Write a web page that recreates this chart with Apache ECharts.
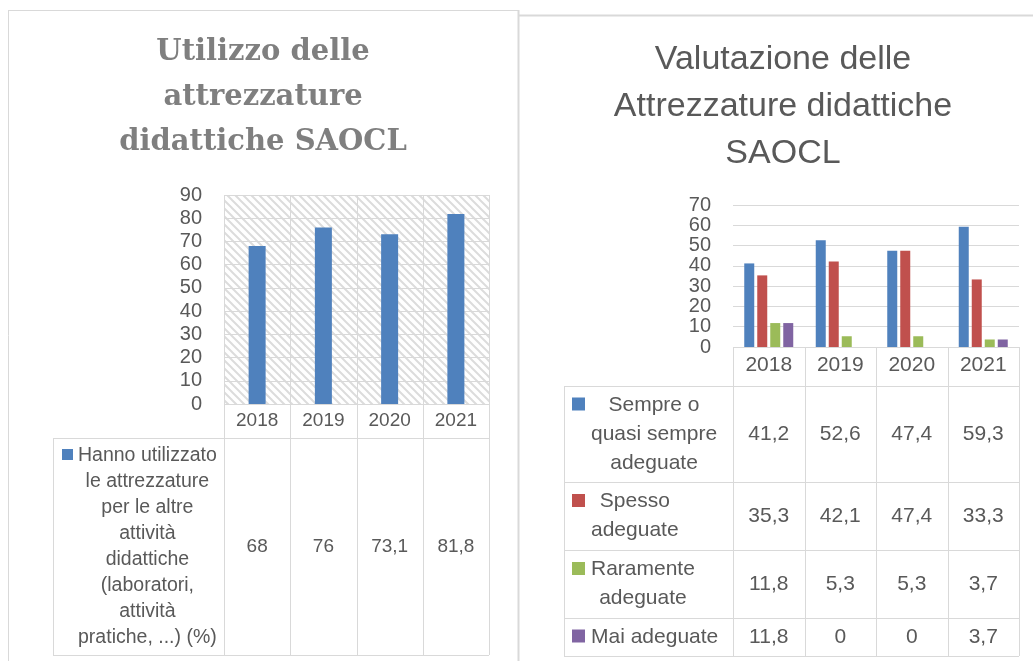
<!DOCTYPE html>
<html>
<head>
<meta charset="utf-8">
<script src="https://cdn.jsdelivr.net/npm/echarts@6/dist/echarts.min.js"></script>
<style>
  html, body { margin: 0; padding: 0; background: #fff; }
  #main { width: 1033px; height: 661px; }
</style>
</head>
<body>
<div id="main"></div>
<script>
// dati
const anni = ['2018', '2019', '2020', '2021']
const utilizzo = [68, 76, 73.1, 81.8]
const utilizzoNome = 'Hanno utilizzato\nle attrezzature\nper le altre\nattività\ndidattiche\n(laboratori,\nattività\npratiche, ...) (%)'
const sempre = [41.2, 52.6, 47.4, 59.3]
const spesso = [35.3, 42.1, 47.4, 33.3]
const raramente = [11.8, 5.3, 5.3, 3.7]
const mai = [11.8, 0, 0, 3.7]
const valutazioneNomi = ['Sempre o\nquasi sempre\nadeguate', 'Spesso\nadeguate', 'Raramente\nadeguate', 'Mai adeguate']
const valutazioneColori = ['#4f81bd', '#c0504d', '#9bbb59', '#8064a2']
const titoloSx = 'Utilizzo delle\nattrezzature\ndidattiche SAOCL'
const titoloDx = 'Valutazione delle\nAttrezzature didattiche\nSAOCL'

const FONT = 'Liberation Sans'
const TXT = '#595959'
const LINEA = '#d9d9d9'

// layout dei due grafici
const g1 = { left: 224, top: 195, width: 265, height: 209 }
const g2 = { left: 733, top: 205, width: 286, height: 142 }

const fmt = v => String(v).replace('.', ',')

const misura = document.createElement('canvas').getContext('2d')
function larghezza(testo, size) {
  misura.font = size + 'px "' + FONT + '"'
  return Math.max(...testo.split('\n').map(r => misura.measureText(r).width))
}

// tratteggio dello sfondo del primo grafico
const tile = document.createElement('canvas')
tile.width = 8
tile.height = 8
const tc = tile.getContext('2d')
tc.strokeStyle = '#dcdcdc'
tc.lineWidth = 2
tc.beginPath()
tc.moveTo(-2, -2)
tc.lineTo(10, 10)
tc.moveTo(-2, 6)
tc.lineTo(2, 10)
tc.moveTo(6, -2)
tc.lineTo(10, 2)
tc.stroke()

const graphics = []
function linea(x1, y1, x2, y2, w) {
  graphics.push({ type: 'line', silent: true, z: 5,
    shape: { x1, y1, x2, y2 }, style: { stroke: LINEA, lineWidth: w || 1 } })
}
function testo(t, x, y, size, extra) {
  graphics.push({ type: 'text', silent: true, z: 6, x, y,
    style: Object.assign({ text: t, fill: TXT, font: size + 'px "' + FONT + '"',
      align: 'center', verticalAlign: 'middle' }, extra || {}) })
}

// tabella dati sotto un grafico
function tabella(g, cfg) {
  const colW = g.width / anni.length
  const right = g.left + g.width
  const axisY = g.top + g.height
  let y = cfg.rowsTop
  // linee verticali delle colonne
  for (let i = 0; i <= anni.length; i++) {
    const x = Math.round(g.left + i * colW) + 0.5
    linea(x, cfg.vTop, x, cfg.rowsBottom)
  }
  linea(g.left, axisY + 0.5, right, axisY + 0.5)
  linea(cfg.legLeft + 0.5, cfg.rowsTop, cfg.legLeft + 0.5, cfg.rowsBottom)
  linea(cfg.legLeft, cfg.rowsTop + 0.5, right, cfg.rowsTop + 0.5)
  cfg.rows.forEach((r, ri) => {
    const h = cfg.heights[ri]
    const cy = y + h / 2
    const nLines = r.name.split('\n').length
    const firstY = cy - (nLines - 1) * cfg.lineH / 2
    graphics.push({ type: 'rect', silent: true, z: 6,
      shape: { x: cfg.legLeft + cfg.keyX, y: firstY - cfg.key / 2 - 1, width: cfg.key, height: cfg.key },
      style: { fill: r.color } })
    const bx = cfg.legLeft + cfg.keyX + cfg.key + cfg.gap
    const bw = larghezza(r.name, cfg.legSize)
    testo(r.name, bx + bw / 2, cy, cfg.legSize, { lineHeight: cfg.lineH })
    r.values.forEach((v, i) => {
      testo(fmt(v), g.left + (i + 0.5) * colW, cy, cfg.size)
    })
    y += h
    linea(cfg.legLeft, Math.round(y) + 0.5, right, Math.round(y) + 0.5)
  })
}

// riquadri
linea(8.5, 10, 8.5, 661)
linea(8, 10.5, 519, 10.5)
linea(518.5, 10, 518.5, 661, 2)
linea(519, 15.5, 1033, 15.5, 2)

// sfondo a tratteggio
graphics.push({ type: 'rect', silent: true, z: -10,
  shape: { x: g1.left, y: g1.top, width: g1.width, height: g1.height },
  style: { fill: { image: tile, repeat: 'repeat' } } })
linea(g1.left, g1.top + 0.5, g1.left + g1.width, g1.top + 0.5)

// titoli
graphics.push({ type: 'text', silent: true, x: 263, y: 97,
  style: { text: titoloSx, fill: '#7f7f7f', font: 'bold 29px "DejaVu Serif"',
    align: 'center', verticalAlign: 'middle', lineHeight: 45 } })
graphics.push({ type: 'text', silent: true, x: 783, y: 107,
  style: { text: titoloDx, fill: TXT, font: '34px "' + FONT + '"',
    align: 'center', verticalAlign: 'middle', lineHeight: 47 } })

tabella(g1, {
  vTop: g1.top, rowsTop: 438, rowsBottom: 655, legLeft: 53,
  heights: [217], size: 19, legSize: 19.5, lineH: 26, key: 11, keyX: 9, gap: 5,
  rows: [{ name: utilizzoNome, color: '#4f81bd', values: utilizzo }]
})
tabella(g2, {
  vTop: g2.top + g2.height, rowsTop: 386, rowsBottom: 656, legLeft: 564,
  heights: [96, 68, 68, 38], size: 21, legSize: 21, lineH: 29, key: 13, keyX: 8, gap: 6,
  rows: [
    { name: valutazioneNomi[0], color: valutazioneColori[0], values: sempre },
    { name: valutazioneNomi[1], color: valutazioneColori[1], values: spesso },
    { name: valutazioneNomi[2], color: valutazioneColori[2], values: raramente },
    { name: valutazioneNomi[3], color: valutazioneColori[3], values: mai }
  ]
})

const chart = echarts.init(document.getElementById('main'))
const assiX = g => ({
  type: 'category', gridIndex: g, data: anni,
  axisLine: { show: false }, axisTick: { show: false },
  axisLabel: { color: TXT, fontFamily: FONT, fontSize: g ? 21 : 19, margin: g ? 8 : 7 },
  splitLine: { show: false }
})
const assiY = (g, max) => ({
  type: 'value', gridIndex: g, min: 0, max: max, interval: 10,
  axisLine: { show: false }, axisTick: { show: false },
  axisLabel: { color: TXT, fontFamily: FONT, fontSize: 20, margin: 22 },
  splitLine: { lineStyle: { color: LINEA, width: 1 } }
})
const serieDx = [sempre, spesso, raramente, mai].map((d, i) => ({
  name: valutazioneNomi[i], type: 'bar', xAxisIndex: 1, yAxisIndex: 1,
  data: d, barWidth: 10, barGap: '30%',
  itemStyle: { color: valutazioneColori[i] }
}))

chart.setOption({
  animation: false,
  grid: [g1, g2],
  xAxis: [assiX(0), assiX(1)],
  yAxis: [assiY(0, 90), assiY(1, 70)],
  series: [{
    name: 'Utilizzo', type: 'bar', xAxisIndex: 0, yAxisIndex: 0,
    data: utilizzo, barWidth: 17, itemStyle: { color: '#4f81bd' }
  }].concat(serieDx),
  graphic: graphics
})
</script>
</body>
</html>
